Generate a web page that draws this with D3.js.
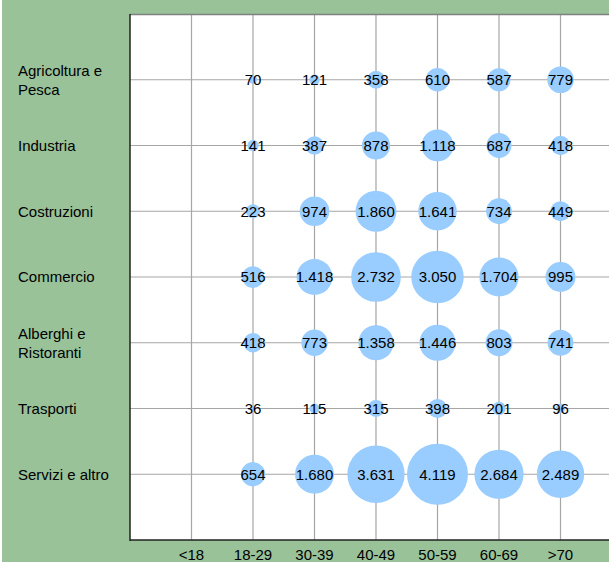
<!DOCTYPE html>
<html>
<head>
<meta charset="utf-8">
<script src="https://cdn.jsdelivr.net/npm/d3@7"></script>
<style>
  html, body { margin: 0; padding: 0; background: #fff; }
  svg { display: block; }
  text { font-family: "Liberation Sans", Arial, sans-serif; }
</style>
</head>
<body>
<svg id="chart" width="609" height="562"></svg>
<script>
// Age bands (columns) and economic sectors (rows, top to bottom)
const ageBands = ["<18", "18-29", "30-39", "40-49", "50-59", "60-69", ">70"];
const sectors = [
  "Agricoltura e Pesca",
  "Industria",
  "Costruzioni",
  "Commercio",
  "Alberghi e Ristoranti",
  "Trasporti",
  "Servizi e altro"
];
// Counts per sector across age bands (<18 has no entries)
const agricoltura = [null, 70, 121, 358, 610, 587, 779];
const industria   = [null, 141, 387, 878, 1118, 687, 418];
const costruzioni = [null, 223, 974, 1860, 1641, 734, 449];
const commercio   = [null, 516, 1418, 2732, 3050, 1704, 995];
const alberghi    = [null, 418, 773, 1358, 1446, 803, 741];
const trasporti   = [null, 36, 115, 315, 398, 201, 96];
const servizi     = [null, 654, 1680, 3631, 4119, 2684, 2489];
const seriesValues = [agricoltura, industria, costruzioni, commercio, alberghi, trasporti, servizi];

const svg = d3.select("#chart");
const W = 609, H = 562;
const FS = 15;

// background panel
svg.append("rect").attr("x", 0).attr("y", 0).attr("width", W).attr("height", H).attr("fill", "#fff");
svg.append("rect").attr("x", 2).attr("y", 0).attr("width", W - 2).attr("height", H).attr("fill", "#99c299");

const plot = { left: 130, top: 14, bottom: 540 };
const step = 61.5;

const x = d3.scaleLinear().domain([0, 8]).range([plot.left, plot.left + 8 * step]);
const y = d3.scaleLinear().domain([0, 8]).range([plot.top, plot.bottom]);
const r = d3.scaleSqrt().domain([0, 4119]).range([0, 30.5]);

// plot area
svg.append("rect")
  .attr("x", plot.left).attr("y", plot.top)
  .attr("width", W - plot.left + 5).attr("height", plot.bottom - plot.top)
  .attr("fill", "#fff");

const grid = svg.append("g");
ageBands.forEach((a, i) => {
  grid.append("line")
    .attr("x1", x(i + 1)).attr("x2", x(i + 1))
    .attr("y1", plot.top).attr("y2", plot.bottom)
    .attr("stroke", "#a6a6a6").attr("stroke-width", 1.2);
});
sectors.forEach((s, j) => {
  grid.append("line")
    .attr("x1", plot.left).attr("x2", W)
    .attr("y1", y(j + 1)).attr("y2", y(j + 1))
    .attr("stroke", "#a6a6a6").attr("stroke-width", 1.2);
});

// plot frame: top grey, left and bottom dark
svg.append("line").attr("x1", plot.left).attr("x2", W).attr("y1", plot.top + 0.5).attr("y2", plot.top + 0.5)
  .attr("stroke", "#808080").attr("stroke-width", 1.5);
svg.append("line").attr("x1", plot.left).attr("x2", plot.left).attr("y1", plot.top).attr("y2", plot.bottom + 1)
  .attr("stroke", "#222").attr("stroke-width", 1.5);
svg.append("line").attr("x1", plot.left).attr("x2", W).attr("y1", plot.bottom).attr("y2", plot.bottom)
  .attr("stroke", "#222").attr("stroke-width", 1.5);

// bubbles
const cells = [];
seriesValues.forEach((vals, j) => vals.forEach((v, i) => {
  if (v != null) cells.push({ row: j, col: i, v });
}));

svg.append("g").selectAll("circle").data(cells).join("circle")
  .attr("cx", d => x(d.col + 1))
  .attr("cy", d => y(d.row + 1))
  .attr("r", d => r(d.v))
  .attr("fill", "#99ccff");

const fmt = d3.formatLocale({ decimal: ",", thousands: ".", grouping: [3], currency: ["", ""] }).format(",d");
svg.append("g").selectAll("text").data(cells).join("text")
  .attr("x", d => x(d.col + 1))
  .attr("y", d => y(d.row + 1))
  .attr("dy", "0.36em")
  .attr("text-anchor", "middle")
  .attr("font-size", FS)
  .attr("fill", "#000")
  .text(d => fmt(d.v));

// x labels
svg.append("g").selectAll("text").data(ageBands).join("text")
  .attr("x", (d, i) => x(i + 1))
  .attr("y", 560)
  .attr("text-anchor", "middle")
  .attr("font-size", FS)
  .text(d => d);

// sector labels (wrapped to two lines where long)
const wrapped = {
  "Agricoltura e Pesca": ["Agricoltura e", "Pesca"],
  "Alberghi e Ristoranti": ["Alberghi e", "Ristoranti"]
};
sectors.forEach((s, j) => {
  const lines = wrapped[s] || [s];
  const t = svg.append("text")
    .attr("x", 18)
    .attr("y", y(j + 1))
    .attr("font-size", FS)
    .attr("fill", "#000");
  const offset = (lines.length - 1) * 0.5 * 1.25 * -1;
  lines.forEach((l, k) => {
    t.append("tspan")
      .attr("x", 18)
      .attr("dy", k === 0 ? (offset + 0.36) + "em" : "1.25em")
      .text(l);
  });
});
</script>
</body>
</html>
